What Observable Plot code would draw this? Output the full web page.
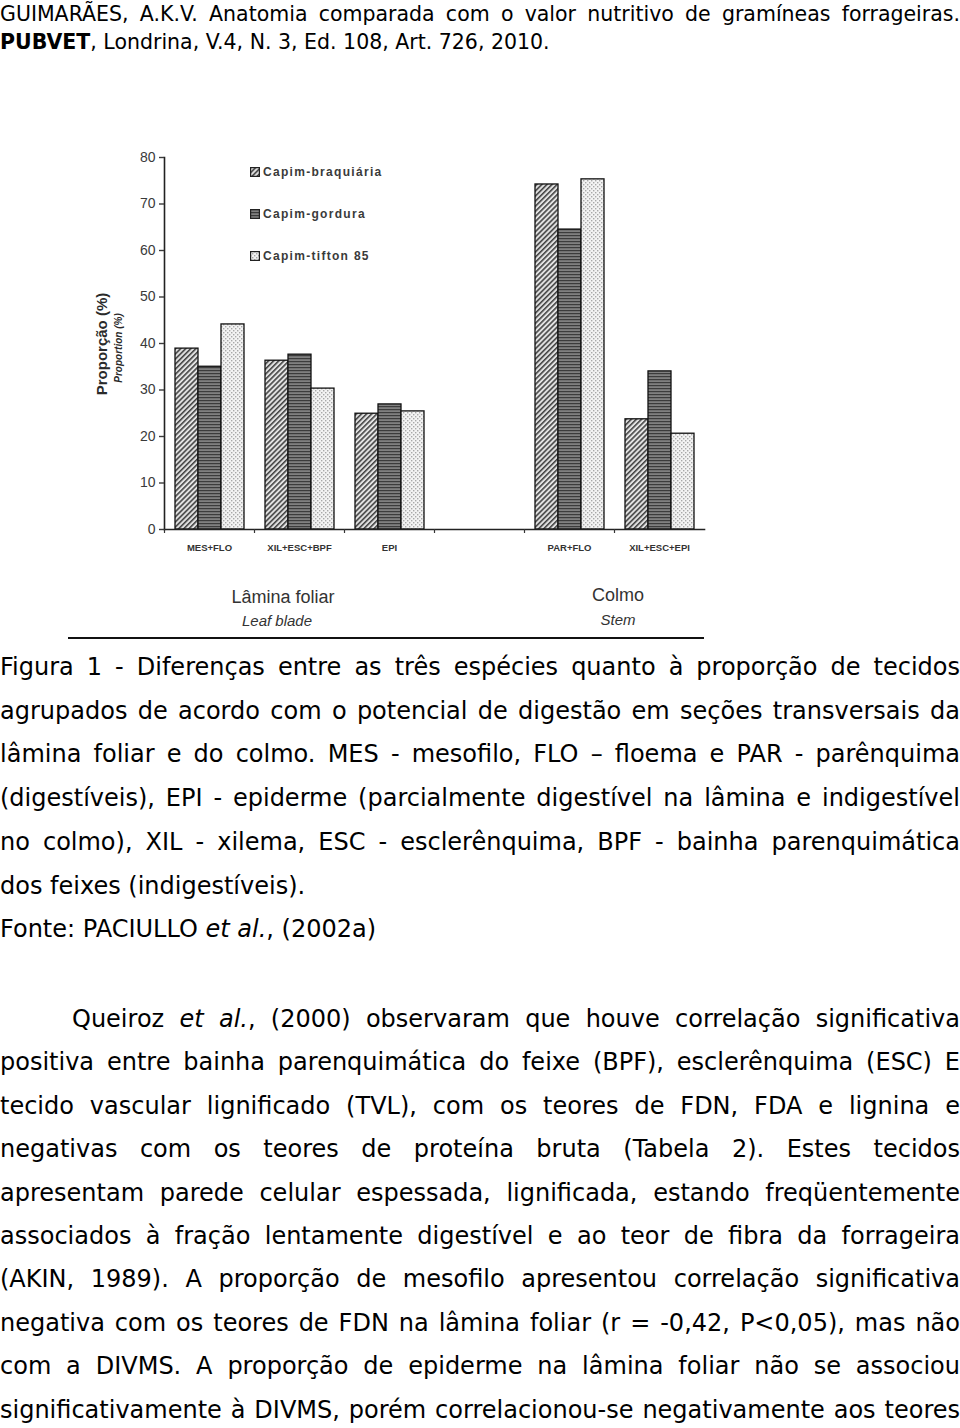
<!DOCTYPE html>
<html>
<head>
<meta charset="utf-8">
<script src="https://cdn.jsdelivr.net/npm/d3@7"></script>
<script src="https://cdn.jsdelivr.net/npm/@observablehq/plot@0.6"></script>
<style>
  html, body { margin: 0; padding: 0; background: #fff; }
  body { width: 960px; height: 1428px; position: relative; overflow: hidden; color: #000; }
  .txt { font-family: "DejaVu Sans", Verdana, sans-serif; position: absolute; left: 0; width: 960px; }
  .ln { width: 960px; white-space: normal; }
  .j { text-align: justify; text-align-last: justify; }
  .hdr { font-size: 20.5px; line-height: 28px; }
  .body { font-size: 24px; }
  .chartfont { font-family: "Liberation Sans", Arial, sans-serif; }
  .abs { position: absolute; }
</style>
</head>
<body>
<svg width="0" height="0" style="position:absolute">
  <defs>
    <pattern id="pBraq" patternUnits="userSpaceOnUse" width="3.6" height="3.6" patternTransform="rotate(45)">
      <rect width="3.6" height="3.6" fill="#e2e2e2"></rect>
      <line x1="0.8" y1="0" x2="0.8" y2="3.6" stroke="#3a3a3a" stroke-width="1.5"></line>
    </pattern>
    <pattern id="pGord" patternUnits="userSpaceOnUse" width="3" height="3">
      <rect width="3" height="3" fill="#808080"></rect>
      <line x1="0" y1="0.6" x2="3" y2="0.6" stroke="#3c3c3c" stroke-width="1.2"></line>
    </pattern>
    <pattern id="pTift" patternUnits="userSpaceOnUse" width="4" height="4">
      <rect width="4" height="4" fill="#f3f3f3"></rect>
      <rect x="0" y="0" width="1.4" height="1.4" fill="#a8a8a8"></rect>
      <rect x="2" y="2" width="1.4" height="1.4" fill="#a8a8a8"></rect>
    </pattern>
  </defs>
</svg>

<div class="txt hdr" style="top:0px;">
  <div class="ln j">GUIMARÃES, A.K.V. Anatomia comparada com o valor nutritivo de gramíneas forrageiras.</div>
  <div class="ln"><b>PUBVET</b>, Londrina, V.4, N. 3, Ed. 108, Art. 726, 2010.</div>
</div>

<div id="chart" class="abs" style="left:0; top:130px;"></div>

<div id="legend" class="abs chartfont" style="left:250px; top:162px; font-size:12px; font-weight:bold; color:#3a3a3a; letter-spacing:1.3px;"></div>

<div class="abs chartfont" style="left:101px; top:344px; transform: translate(-50%,-50%) rotate(-90deg); white-space:nowrap; font-size:15px; font-weight:bold; color:#2a2a2a;">Proporção (%)</div>
<div class="abs chartfont" style="left:118px; top:348px; transform: translate(-50%,-50%) rotate(-90deg); white-space:nowrap; font-size:10px; font-weight:bold; font-style:italic; color:#2a2a2a;">Proportion (%)</div>

<div class="abs chartfont" style="left:283px; top:597px; transform: translate(-50%,-50%); white-space:nowrap; font-size:18px; color:#333;">Lâmina foliar</div>
<div class="abs chartfont" style="left:277px; top:620px; transform: translate(-50%,-50%); white-space:nowrap; font-size:15px; font-style:italic; color:#333;">Leaf blade</div>
<div class="abs chartfont" style="left:618px; top:595px; transform: translate(-50%,-50%); white-space:nowrap; font-size:18px; color:#333;">Colmo</div>
<div class="abs chartfont" style="left:618px; top:619px; transform: translate(-50%,-50%); white-space:nowrap; font-size:15px; font-style:italic; color:#333;">Stem</div>

<div class="abs" style="left:68px; top:637px; width:636px; height:2px; background:#111;"></div>

<div class="txt body" style="top:646px; line-height:43.7px;">
  <div class="ln j">Figura 1 - Diferenças entre as três espécies quanto à proporção de tecidos</div>
  <div class="ln j">agrupados de acordo com o potencial de digestão em seções transversais da</div>
  <div class="ln j">lâmina foliar e do colmo. MES - mesofilo, FLO – floema e PAR - parênquima</div>
  <div class="ln j">(digestíveis), EPI - epiderme (parcialmente digestível na lâmina e indigestível</div>
  <div class="ln j">no colmo), XIL - xilema, ESC - esclerênquima, BPF - bainha parenquimática</div>
  <div class="ln">dos feixes (indigestíveis).</div>
  <div class="ln">Fonte: PACIULLO <i>et al.</i>, (2002a)</div>
</div>

<div class="txt body" style="top:998px; line-height:43.4px;">
  <div class="ln j" style="text-indent:72px;">Queiroz <i>et al.</i>, (2000) observaram que houve correlação significativa</div>
  <div class="ln j">positiva entre bainha parenquimática do feixe (BPF), esclerênquima (ESC) E</div>
  <div class="ln j">tecido vascular lignificado (TVL), com os teores de FDN, FDA e lignina e</div>
  <div class="ln j">negativas com os teores de proteína bruta (Tabela 2). Estes tecidos</div>
  <div class="ln j">apresentam parede celular espessada, lignificada, estando freqüentemente</div>
  <div class="ln j">associados à fração lentamente digestível e ao teor de fibra da forrageira</div>
  <div class="ln j">(AKIN, 1989). A proporção de mesofilo apresentou correlação significativa</div>
  <div class="ln j">negativa com os teores de FDN na lâmina foliar (r = -0,42, P&lt;0,05), mas não</div>
  <div class="ln j">com a DIVMS. A proporção de epiderme na lâmina foliar não se associou</div>
  <div class="ln j">significativamente à DIVMS, porém correlacionou-se negativamente aos teores</div>
</div>

<script>
// ---- data ----
const categories = ["MES+FLO", "XIL+ESC+BPF", "EPI", "", "PAR+FLO", "XIL+ESC+EPI"];
const species = ["Capim-braquiária", "Capim-gordura", "Capim-tifton 85"];
const braquiaria = [38.9, 36.3, 24.9, null, 74.2, 23.7];
const gordura    = [35.0, 37.6, 26.9, null, 64.5, 34.0];
const tifton     = [44.1, 30.3, 25.4, null, 75.3, 20.6];
const yTicks = [0, 10, 20, 30, 40, 50, 60, 70, 80];
const patterns = ["url(#pBraq)", "url(#pGord)", "url(#pTift)"];

const seriesValues = [braquiaria, gordura, tifton];
const rows = [];
categories.forEach((c, i) => {
  species.forEach((s, k) => {
    const v = seriesValues[k][i];
    if (v != null) rows.push({category: c, species: s, value: v});
  });
});

const chart = Plot.plot({
  width: 720,
  height: 440,
  marginLeft: 163,
  marginRight: 15,
  marginTop: 27,
  marginBottom: 41,
  style: {fontFamily: "Liberation Sans, Arial, sans-serif", background: "transparent", overflow: "visible"},
  fx: {domain: categories, padding: 0, label: null},
  x: {domain: species, paddingInner: 0, paddingOuter: 0.42, axis: null},
  y: {domain: [0, 80], label: null},
  color: {domain: species, range: patterns},
  marks: [
    Plot.barY(rows, {fx: "category", x: "species", y: "value", fill: "species", stroke: "#111", strokeWidth: 1.3}),
    Plot.frame({anchor: "bottom", facet: "super", stroke: "#222", strokeWidth: 1.6}),
    Plot.frame({anchor: "left", facet: "super", stroke: "#222", strokeWidth: 1.6}),
    Plot.axisY({ticks: yTicks, facetAnchor: "left", tickSize: 5, tickPadding: 4, fontSize: 14, label: null, color: "#3a3a3a", strokeWidth: 1.4}),
    Plot.axisFx({anchor: "bottom", tickSize: 0, tickPadding: 15, fontSize: 9.5, fontWeight: "bold", fill: "#333", label: null}),
    Plot.axisFx({anchor: "bottom", tickSize: 4, tickFormat: () => "", dx: -45, stroke: "#333", strokeWidth: 1.2, label: null})
  ]
});
document.getElementById("chart").appendChild(chart);

// legend
const legend = document.getElementById("legend");
species.forEach((s, k) => {
  const row = document.createElement("div");
  row.style.cssText = "display:flex; align-items:center; height:20px; margin-bottom:22px; white-space:nowrap;";
  row.innerHTML = `<svg width="10" height="10" style="margin-right:3px"><rect x="0.6" y="0.6" width="8.8" height="8.8" fill="${patterns[k]}" stroke="#222" stroke-width="1.2"></rect></svg><span>${s}</span>`;
  legend.appendChild(row);
});

// fit justified lines that would be too long
document.querySelectorAll(".ln.j").forEach(el => {
  const avail = el.clientWidth - (parseFloat(el.style.textIndent) || 0);
  const probe = document.createElement("span");
  probe.style.whiteSpace = "nowrap";
  probe.innerHTML = el.innerHTML;
  el.innerHTML = "";
  el.appendChild(probe);
  const w = probe.getBoundingClientRect().width;
  const html = probe.innerHTML;
  el.innerHTML = html;
  if (w > avail - 1) {
    const spaces = (el.textContent.trim().match(/ /g) || []).length || 1;
    el.style.wordSpacing = (-(w - avail + 2) / spaces) + "px";
  }
});
</script>
</body>
</html>
